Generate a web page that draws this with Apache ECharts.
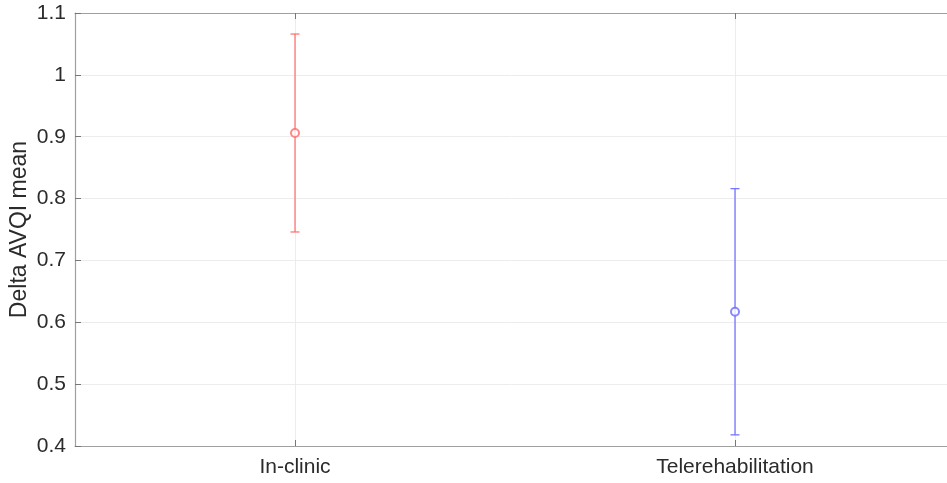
<!DOCTYPE html>
<html>
<head>
<meta charset="utf-8">
<script src="https://cdn.jsdelivr.net/npm/echarts@6/dist/echarts.min.js"></script>
<style>
  html, body { margin: 0; padding: 0; background: #fff; }
  #chart { width: 947px; height: 483px; }
</style>
</head>
<body>
<div id="chart"></div>
<script>
// Group labels and their positions on the x axis
const categories = ['In-clinic', 'Telerehabilitation'];
const positions = [1, 2];
// Mean change in AVQI per group and the half-width of each error bar
const means = [0.906, 0.617];
const errors = [0.160, 0.199];
const colors = ['#ff6b6b', '#6b6bff'];
// Y tick settings
const yMin = 0.4, yMax = 1.1, yStep = 0.1;

const font = 'Liberation Sans, Arial, Helvetica, sans-serif';
const axisGrey = '#a0a0a0';
const gridGrey = '#ececec';
const textColor = '#2b2b2b';

const chart = echarts.init(document.getElementById('chart'));

const barData = means.map((m, i) => [positions[i], m - errors[i], m + errors[i], i]);
const pointData = means.map((m, i) => ({ value: [positions[i], m], itemStyle: { color: colors[i], borderColor: colors[i] } }));

chart.setOption({
  animation: false,
  grid: { left: 75, top: 13, right: -8, bottom: 37, outerBoundsMode: 'none', containLabel: false },
  xAxis: [
    {
      type: 'value', min: 0.5, max: 2.5, interval: 0.5,
      axisLine: { show: true, onZero: false, lineStyle: { color: axisGrey, width: 1.2 } },
      axisTick: { show: true, inside: true, length: 6, lineStyle: { color: '#777' },
        customValues: positions },
      axisLabel: {
        customValues: positions,
        formatter: v => { const i = positions.indexOf(v); return i >= 0 ? categories[i] : ''; },
        color: textColor, fontSize: 21, fontFamily: font, margin: 11
      },
      splitLine: { show: true, lineStyle: { color: gridGrey }, customValues: positions }
    },
    {
      type: 'value', position: 'top', min: 0.5, max: 2.5, interval: 0.5,
      axisLine: { show: true, onZero: false, lineStyle: { color: axisGrey, width: 1.2 } },
      axisTick: { show: true, inside: true, length: 6, lineStyle: { color: '#777' }, customValues: positions },
      axisLabel: { show: false },
      splitLine: { show: false }
    }
  ],
  yAxis: {
    type: 'value', min: yMin, max: yMax, interval: yStep,
    name: 'Delta AVQI mean', nameLocation: 'middle', nameGap: 44, nameMoveOverlap: false,
    nameTextStyle: { color: textColor, fontSize: 23, fontFamily: font },
    axisLine: { show: true, lineStyle: { color: axisGrey, width: 1.2 } },
    axisTick: { show: true, inside: true, length: 6, lineStyle: { color: '#777' } },
    axisLabel: {
      color: textColor, fontSize: 21, fontFamily: font, margin: 9,
      formatter: v => String(Math.round(v * 10) / 10)
    },
    splitLine: { show: true, lineStyle: { color: gridGrey } }
  },
  series: [
    {
      type: 'custom',
      data: barData,
      encode: { x: 0, y: [1, 2] },
      renderItem: (params, api) => {
        const x = api.value(0);
        const lo = api.coord([x, api.value(1)]);
        const hi = api.coord([x, api.value(2)]);
        const c = colors[api.value(3)];
        const hw = 4.5;
        const style = { stroke: c, lineWidth: 1.2, fill: null };
        return {
          type: 'group',
          children: [
            { type: 'line', shape: { x1: lo[0], y1: lo[1], x2: hi[0], y2: hi[1] }, style },
            { type: 'line', shape: { x1: lo[0] - hw, y1: lo[1], x2: lo[0] + hw, y2: lo[1] }, style },
            { type: 'line', shape: { x1: hi[0] - hw, y1: hi[1], x2: hi[0] + hw, y2: hi[1] }, style }
          ]
        };
      },
      z: 2
    },
    {
      type: 'scatter',
      data: pointData,
      symbol: 'emptyCircle',
      symbolSize: 8,
      itemStyle: { borderWidth: 1.2 },
      z: 3
    }
  ]
});
</script>
</body>
</html>
